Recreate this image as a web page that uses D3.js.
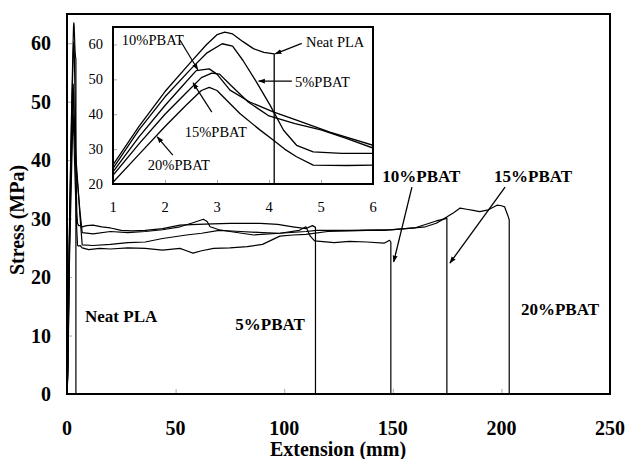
<!DOCTYPE html>
<html><head><meta charset="utf-8">
<script src="https://cdn.jsdelivr.net/npm/d3@7"></script>
<style>body{margin:0;background:#fff}svg{display:block}</style>
</head><body>
<script>
// ---------- data (extension mm, stress MPa) ----------
const neatPLA = [[0,0],[0.3,4],[0.6,12],[1,25.5],[1.5,36.5],[2,46.5],[2.5,55],[2.8,60],[3.0,62.8],[3.15,63.5],[3.3,63],[3.5,60.8],[3.7,58.8],[3.9,57.7],[4.1,57.3],[4.1,0]];
const pbat5 = [[0,0],[0.3,4],[0.6,11.5],[1,24.5],[1.5,35.5],[2,45],[2.5,53],[2.8,57.5],[3.1,60.2],[3.3,59.5],[3.5,55.4],[3.76,49.2],[4.02,42.6],[4.28,35.4],[4.53,31.1],[4.85,29.2],[5.4,28.8],[6,28.8],[7,28.6],[9,28.8],[12,28.9],[16,28.6],[20,28.4],[25,28.0],[30,27.9],[36,28.0],[44,28.3],[52,28.9],[60,29.0],[67,29.1],[75,29.2],[89,29.2],[97,29.0],[104,28.6],[110,28.3],[113,28.8],[114.4,28.5],[114.4,0]];
const pbat10 = [[0,0],[0.3,3.5],[0.6,10.5],[1,23.5],[1.5,33.5],[2,42.5],[2.3,47.5],[2.6,52.5],[2.85,53],[3.0,51.5],[3.25,46.9],[3.63,43.5],[4.08,40.7],[4.53,38.3],[5.17,34.9],[6,31.1],[7,27.6],[12,27.4],[20,27.8],[28,27.6],[36,27.8],[44,28.1],[52,28.6],[58,29.3],[62.8,29.9],[64.5,29.5],[65.9,28.6],[70,28.1],[75,27.8],[86,27.2],[98,27.5],[107,28.0],[110,28.6],[112,27.0],[114,26.2],[123,25.9],[130,26.1],[138,26.0],[146,25.8],[148.5,26.3],[149.1,26.0],[149.1,0]];
const pbat15 = [[0,0],[0.3,3],[0.6,9.5],[1,22.5],[1.5,31.5],[2,40],[2.4,46],[2.7,50.5],[2.9,51.8],[3.05,51.5],[3.25,48.5],[3.6,43.5],[4.0,39.5],[4.5,37.3],[5.0,35.5],[5.5,33.0],[6,30.3],[7,25.5],[12,25.4],[20,25.6],[28,25.9],[36,26.0],[44,26.6],[55,27.2],[62,27.5],[70,28.0],[80,27.8],[90,27.6],[98,27.5],[110,27.8],[115,28.0],[130,28.0],[150,28.1],[160,28.4],[165,29.0],[170,29.6],[174.9,30.05],[174.9,0]];
const pbat20 = [[0,0],[0.3,2.5],[0.6,8],[1,20.5],[1.5,28.5],[2,36.5],[2.4,42.5],[2.7,46.8],[2.85,47.7],[3.0,46.8],[3.2,43.8],[3.44,40.2],[3.8,35.8],[4.08,32.6],[4.3,30],[4.53,27.8],[4.85,25.4],[5.5,25.3],[6,25.4],[7,25.0],[10,24.7],[15,24.9],[20,24.8],[28,25.0],[36,24.9],[44,24.6],[52,24.9],[55,24.5],[58,24.1],[62,24.5],[67.5,24.9],[75,25.0],[83,25.2],[90,25.6],[98,27.0],[104,27.2],[110,27.3],[120,27.8],[130,27.9],[138,28.0],[146,28.0],[153,28.2],[160,28.4],[165,28.6],[170,29.2],[175,30.3],[178,31.0],[181,31.8],[184,31.6],[187,31.4],[190,31.2],[194,31.5],[198,32.3],[200,32.2],[201.5,32.0],[203,30.5],[203.6,29.8],[203.6,0]];
const seriesList = [neatPLA, pbat5, pbat10, pbat15, pbat20];

const mainXTicks = [0,50,100,150,200,250];
const mainYTicks = [0,10,20,30,40,50,60];
const insetXTicks = [1,2,3,4,5,6];
const insetYTicks = [20,30,40,50,60];

// annotations in data units: [text, x, y, arrowFromX, arrowFromY, arrowToX, arrowToY]
const mainNotes = [
  ["Neat PLA", 8.3, 12.4],
  ["5%PBAT", 77.5, 10.9],
  ["10%PBAT", 145.2, 36.3, 158.8, 35.4, 150.4, 22.6],
  ["15%PBAT", 196.6, 36.3, 201.7, 35.4, 176.3, 22.4],
  ["20%PBAT", 209, 13.5]
];
const insetNotes = [
  ["10%PBAT", 1.17, 59.8, 2.29, 61.2, 2.63, 52.8],
  ["15%PBAT", 2.38, 33.4, 2.90, 40.6, 2.54, 49.0],
  ["20%PBAT", 1.67, 24.0, 2.15, 28.3, 1.85, 33.5],
  ["Neat PLA", 4.71, 59.2, 4.63, 60.3, 4.12, 57.3],
  ["5%PBAT", 4.5, 47.7, 4.44, 49.5, 3.80, 49.5]
];

// ---------- drawing ----------
const W = 628, H = 459;
const svg = d3.select("body").append("svg").attr("width", W).attr("height", H);
svg.append("defs").append("marker").attr("id","ah").attr("viewBox","0 0 10 10")
  .attr("refX",9).attr("refY",5).attr("markerWidth",7).attr("markerHeight",7)
  .attr("markerUnits","userSpaceOnUse").attr("orient","auto")
  .append("path").attr("d","M0,1.5 L10,5 L0,8.5 Z").attr("fill","#000");

const serif = "'Liberation Serif','Times New Roman',serif";
const x = d3.scaleLinear().domain([0,250]).range([67,610]);
const y = d3.scaleLinear().domain([0,65]).range([394,14]);

// ticks (inward, gray)
const gx = svg.append("g").attr("transform","translate(0,394)")
  .call(d3.axisBottom(x).tickValues(mainXTicks).tickSize(-5).tickFormat(""));
gx.select(".domain").remove(); gx.selectAll("line").attr("stroke","#aaa");
const gy = svg.append("g").attr("transform","translate(67,0)")
  .call(d3.axisLeft(y).tickValues(mainYTicks).tickSize(-5).tickFormat(""));
gy.select(".domain").remove(); gy.selectAll("line").attr("stroke","#aaa");

// tick labels
svg.append("g").selectAll("text").data(mainXTicks).join("text")
  .attr("x", d=>x(d)).attr("y", 435).attr("text-anchor","middle")
  .attr("font-family",serif).attr("font-weight","bold").attr("font-size",20).text(d=>d);
svg.append("g").selectAll("text").data(mainYTicks).join("text")
  .attr("x", 51).attr("y", d=>y(d)+7).attr("text-anchor","end")
  .attr("font-family",serif).attr("font-weight","bold").attr("font-size",20).text(d=>d);

// axis titles
svg.append("text").attr("x",338).attr("y",456).attr("text-anchor","middle")
  .attr("font-family",serif).attr("font-weight","bold").attr("font-size",20).text("Extension (mm)");
svg.append("text").attr("transform","translate(24,220) rotate(-90)").attr("text-anchor","middle")
  .attr("font-family",serif).attr("font-weight","bold").attr("font-size",20).text("Stress (MPa)");

// main curves
svg.append("clipPath").attr("id","mainclip").append("rect")
  .attr("x",67).attr("y",14).attr("width",543).attr("height",380);
const line = d3.line().x(d=>x(d[0])).y(d=>y(d[1]));
svg.append("g").attr("clip-path","url(#mainclip)").selectAll("path").data(seriesList).join("path")
  .attr("d", line).attr("fill","none").attr("stroke","#000").attr("stroke-width",1.2)
  .attr("stroke-linejoin","round");

// main frame
svg.append("rect").attr("x",67).attr("y",14).attr("width",543).attr("height",380)
  .attr("fill","none").attr("stroke","#000").attr("stroke-width",2);

// main annotations
mainNotes.forEach(n=>{
  svg.append("text").attr("x",x(n[1])).attr("y",y(n[2]))
    .attr("font-family",serif).attr("font-weight","bold").attr("font-size",17).text(n[0]);
  if(n.length>3){
    svg.append("line").attr("x1",x(n[3])).attr("y1",y(n[4])).attr("x2",x(n[5])).attr("y2",y(n[6]))
      .attr("stroke","#000").attr("stroke-width",1.3).attr("marker-end","url(#ah)");
  }
});

// ---------- inset ----------
const ix = d3.scaleLinear().domain([1,6]).range([113,373]);
const iy = d3.scaleLinear().domain([20,65]).range([184,27]);
svg.append("rect").attr("x",113).attr("y",27).attr("width",260).attr("height",157).attr("fill","#fff");
const igx = svg.append("g").attr("transform","translate(0,184)")
  .call(d3.axisBottom(ix).tickValues(insetXTicks).tickSize(-4).tickFormat(""));
igx.select(".domain").remove(); igx.selectAll("line").attr("stroke","#aaa");
const igy = svg.append("g").attr("transform","translate(113,0)")
  .call(d3.axisLeft(iy).tickValues(insetYTicks).tickSize(-4).tickFormat(""));
igy.select(".domain").remove(); igy.selectAll("line").attr("stroke","#aaa");

svg.append("g").selectAll("text").data(insetXTicks).join("text")
  .attr("x", d=>ix(d)).attr("y", 212).attr("text-anchor","middle")
  .attr("font-family",serif).attr("font-size",14.5).text(d=>d);
svg.append("g").selectAll("text").data(insetYTicks).join("text")
  .attr("x", 103).attr("y", d=>iy(d)+5).attr("text-anchor","end")
  .attr("font-family",serif).attr("font-size",14.5).text(d=>d);

svg.append("clipPath").attr("id","insetclip").append("rect")
  .attr("x",113).attr("y",27).attr("width",260).attr("height",157);
const iline = d3.line().x(d=>ix(d[0])).y(d=>iy(d[1]));
svg.append("g").attr("clip-path","url(#insetclip)").selectAll("path").data(seriesList).join("path")
  .attr("d", iline).attr("fill","none").attr("stroke","#000").attr("stroke-width",1.3)
  .attr("stroke-linejoin","round");

svg.append("rect").attr("x",113).attr("y",27).attr("width",260).attr("height",157)
  .attr("fill","none").attr("stroke","#000").attr("stroke-width",2);

insetNotes.forEach(n=>{
  svg.append("text").attr("x",ix(n[1])).attr("y",iy(n[2]))
    .attr("font-family",serif).attr("font-size",14.5).text(n[0]);
  svg.append("line").attr("x1",ix(n[3])).attr("y1",iy(n[4])).attr("x2",ix(n[5])).attr("y2",iy(n[6]))
    .attr("stroke","#000").attr("stroke-width",1.2).attr("marker-end","url(#ah)");
});
</script>
</body></html>
